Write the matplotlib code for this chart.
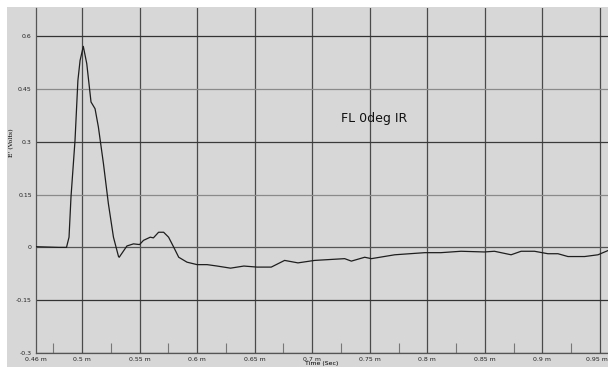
import matplotlib.pyplot as plt
from matplotlib.patches import Rectangle
from matplotlib.transforms import ScaledTranslation

# trace
time_s = [0.460, 0.470, 0.480, 0.4865, 0.4887, 0.4904, 0.4939, 0.4964, 0.4983, 0.5011,
          0.5041, 0.5078, 0.5113, 0.5142, 0.5186, 0.5229, 0.5273, 0.5317, 0.5323,
          0.5390, 0.5447, 0.5500, 0.5534, 0.5593, 0.5620, 0.5665, 0.5709, 0.5752,
          0.5796, 0.5840, 0.5912, 0.6000, 0.6087, 0.6174, 0.6290, 0.6406, 0.6522,
          0.6609, 0.6644, 0.6760, 0.6876, 0.7021, 0.7282, 0.7340, 0.7456, 0.7514,
          0.7717, 0.7978, 0.8118, 0.8293, 0.8496, 0.8583, 0.8728, 0.8815, 0.8931,
          0.9048, 0.9135, 0.9222, 0.9367, 0.9483, 0.9570]
volts = [0.002, 0.001, 0.000, 0.000, 0.029, 0.143, 0.304, 0.474, 0.531, 0.571,
         0.522, 0.413, 0.394, 0.342, 0.238, 0.124, 0.029, -0.026, -0.028,
         0.004, 0.010, 0.008, 0.020, 0.029, 0.027, 0.043, 0.043, 0.029,
         0.001, -0.028, -0.042, -0.049, -0.049, -0.053, -0.059, -0.053, -0.056,
         -0.056, -0.056, -0.037, -0.044, -0.037, -0.032, -0.039, -0.028, -0.032,
         -0.021, -0.015, -0.015, -0.011, -0.013, -0.011, -0.021, -0.011, -0.011,
         -0.018, -0.018, -0.026, -0.026, -0.021, -0.009]

x_ticks = [0.46, 0.5, 0.55, 0.6, 0.65, 0.7, 0.75, 0.8, 0.85, 0.9, 0.95]
x_labels = ["0.46 m", "0.5 m", "0.55 m", "0.6 m", "0.65 m", "0.7 m", "0.75 m",
            "0.8 m", "0.85 m", "0.9 m", "0.95 m"]
x_minor = [0.475, 0.525, 0.575, 0.625, 0.675, 0.725, 0.775, 0.825, 0.875, 0.925]
y_ticks = [0.6, 0.45, 0.3, 0.15, 0, -0.15, -0.3]
y_labels = ["0.6", "0.45", "0.3", "0.15", "0", "-0.15", "-0.3"]
y_grid_colors = ["#333333", "#8a8a8a", "#3a3a3a", "#8a8a8a", "#555555", "#333333", "#333333"]

bg = "#d7d7d7"
fig = plt.figure(figsize=(6.08, 3.67), dpi=100, facecolor=bg)
# white strips at top and left of the screenshot
fig.patches.append(Rectangle((0, 1 - 7 / 367), 1, 7 / 367, transform=fig.transFigure,
                             facecolor="white", edgecolor="none", zorder=0))
fig.patches.append(Rectangle((0, 0), 7 / 608, 1, transform=fig.transFigure,
                             facecolor="white", edgecolor="none", zorder=0))

ax = fig.add_axes([36 / 608, 14 / 367, 572 / 608, 345 / 367])
ax.set_facecolor(bg)

for xt in x_ticks[1:]:
    ax.axvline(xt, color="#4a4a4a", lw=0.9, zorder=1)
for yt, c in zip(y_ticks, y_grid_colors):
    ax.axhline(yt, color=c, lw=0.9, zorder=1)

ax.plot(time_s, volts, color="#1e1e1e", lw=0.9, zorder=3)

ax.set_xlim(0.46, 0.957)
ax.set_ylim(-0.3, 0.68)
ax.set_xticks(x_ticks)
ax.set_xticklabels(x_labels)
ax.set_xticks(x_minor, minor=True)
ax.set_yticks(y_ticks)
ax.set_yticklabels(y_labels)
ax.tick_params(which="major", length=0, labelsize=4.5, colors="#222222", pad=3)
ax.tick_params(which="minor", direction="in", length=7, width=0.8, color="#777777")

# last label sits against the right edge in the original
last = ax.get_xticklabels()[-1]
last.set_transform(last.get_transform() + ScaledTranslation(-3 / 100, 0, fig.dpi_scale_trans))

for side in ["top", "right"]:
    ax.spines[side].set_visible(False)
ax.spines["left"].set_color("#555555")
ax.spines["bottom"].set_color("#555555")
ax.spines["left"].set_linewidth(0.9)
ax.spines["bottom"].set_linewidth(0.9)

ax.set_xlabel("Time (Sec)", fontsize=4.5, labelpad=-1)
ax.set_ylabel("E' (Volts)", fontsize=4.5, family="DejaVu Serif")
ax.yaxis.set_label_coords(-0.038, 0.61)

ax.text(0.7247, 0.366, "FL 0deg IR", fontsize=9, color="#111111", va="center", ha="left")

plt.savefig("out.png", dpi=100, facecolor=bg)
